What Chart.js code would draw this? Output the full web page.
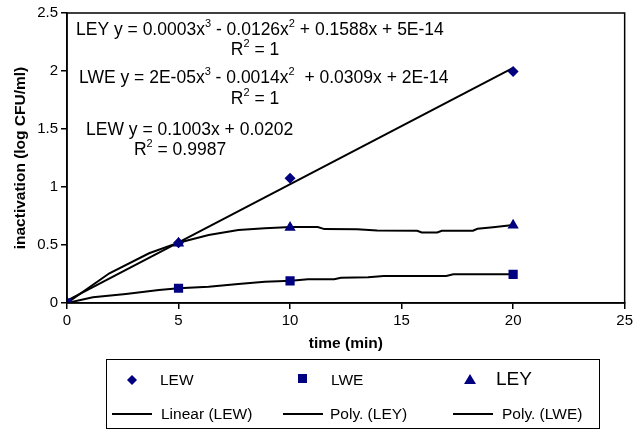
<!DOCTYPE html>
<html>
<head>
<meta charset="utf-8">
<script src="https://cdn.jsdelivr.net/npm/chart.js@4/dist/chart.umd.min.js"></script>
<style>
html,body{margin:0;padding:0;background:#fff;}
canvas{display:block;}
</style>
</head>
<body>
<canvas id="c" width="636" height="430"></canvas>
<script>
// ---- data ----
const timeMin = [0, 5, 10, 20];
const lewValues = [0, 0.52, 1.075, 1.995];
const lweValues = [0, 0.127, 0.19, 0.247];
const leyValues = [0, 0.515, 0.65, 0.67];

// trend lines
const linLewX = [0, 20];
const linLewY = [0.02, 2.026];
const polyLeyX = [0, 1.9, 3.68, 5.0, 6.35, 7.68, 8.87, 10.05, 11.24, 11.54, 13.0, 13.9, 15.7, 15.9, 16.6, 16.8, 18.2, 18.4, 19.1, 20];
const polyLeyY = [0, 0.256, 0.429, 0.52, 0.586, 0.629, 0.644, 0.655, 0.655, 0.637, 0.635, 0.625, 0.623, 0.608, 0.608, 0.623, 0.623, 0.64, 0.653, 0.672];
const polyLweX = [0, 1.16, 2.64, 4.12, 5.0, 6.35, 7.68, 8.87, 10.05, 10.8, 11.98, 12.28, 13.5, 14.2, 17.0, 17.32, 20];
const polyLweY = [0, 0.049, 0.078, 0.112, 0.127, 0.141, 0.164, 0.184, 0.192, 0.204, 0.204, 0.218, 0.222, 0.233, 0.233, 0.247, 0.247];

const xTicks = [0, 5, 10, 15, 20, 25];
const yTicks = [0, 0.5, 1, 1.5, 2, 2.5];
const yTickLabels = ['0', '0.5', '1', '1.5', '2', '2.5'];

const xTitle = 'time (min)';
const yTitle = 'inactivation (log CFU/ml)';

const eqLines = [
  {parts: [['LEY y = 0.0003x',0],['3',1],[' - 0.0126x',0],['2',1],[' + 0.1588x + 5E-14',0]], x: 76, y: 30, align: 'left'},
  {parts: [['R',0],['2',1],[' = 1',0]], x: 255, y: 50, align: 'center'},
  {parts: [['LWE y = 2E-05x',0],['3',1],[' - 0.0014x',0],['2',1],['  + 0.0309x + 2E-14',0]], x: 79, y: 78, align: 'left'},
  {parts: [['R',0],['2',1],[' = 1',0]], x: 255, y: 99, align: 'center'},
  {parts: [['LEW y = 0.1003x + 0.0202',0]], x: 86, y: 130, align: 'left'},
  {parts: [['R',0],['2',1],[' = 0.9987',0]], x: 180, y: 150, align: 'center'}
];

const legendRow1 = ['LEW', 'LWE', 'LEY'];
const legendRow2 = ['Linear (LEW)', 'Poly. (LEY)', 'Poly. (LWE)'];

const FONT = '"Liberation Sans", Arial, sans-serif';
const NAVY = '#000080';

function pts(xs, ys){ return xs.map((x,i)=>({x:x, y:ys[i]})); }

const overlay = {
  id: 'overlay',
  afterDraw(chart){
    const ctx = chart.ctx;
    const a = chart.chartArea;
    ctx.save();
    // plot frame
    ctx.strokeStyle = '#000';
    ctx.lineWidth = 1.5;
    ctx.strokeRect(a.left, a.top, a.right - a.left, a.bottom - a.top);

    // equations
    ctx.fillStyle = '#000';
    ctx.textBaseline = 'middle';
    const mainF = '17.5px ' + FONT, supF = '11px ' + FONT;
    eqLines.forEach(l => {
      let w = 0;
      l.parts.forEach(p => { ctx.font = p[1] ? supF : mainF; w += ctx.measureText(p[0]).width; });
      let x = l.align === 'center' ? l.x - w/2 : l.x;
      ctx.textAlign = 'left';
      l.parts.forEach(p => {
        ctx.font = p[1] ? supF : mainF;
        ctx.fillText(p[0], x, p[1] ? l.y - 6 : l.y);
        x += ctx.measureText(p[0]).width;
      });
    });

    // legend
    const L = {left: 106, top: 359, right: 599, bottom: 428};
    ctx.lineWidth = 1;
    ctx.strokeStyle = '#000';
    ctx.strokeRect(L.left + 0.5, L.top + 0.5, L.right - L.left, L.bottom - L.top);
    const r1 = 380, r2 = 414;
    ctx.fillStyle = NAVY;
    // diamond
    ctx.beginPath();
    ctx.moveTo(132, r1 - 5); ctx.lineTo(137, r1); ctx.lineTo(132, r1 + 5); ctx.lineTo(127, r1); ctx.closePath(); ctx.fill();
    // square
    ctx.fillRect(298, r1 - 6, 9, 9);
    // triangle
    ctx.beginPath();
    ctx.moveTo(470, r1 - 6); ctx.lineTo(476, r1 + 4); ctx.lineTo(464, r1 + 4); ctx.closePath(); ctx.fill();
    ctx.fillStyle = '#000';
    ctx.textAlign = 'left';
    ctx.font = '15.5px ' + FONT;
    ctx.fillText(legendRow1[0], 160, r1 + 1);
    ctx.fillText(legendRow1[1], 331, r1 + 1);
    ctx.font = '19px ' + FONT;
    ctx.fillText(legendRow1[2], 496, r1);
    ctx.font = '15.5px ' + FONT;
    ctx.lineWidth = 2;
    [[112,152,legendRow2[0],161],[283,323,legendRow2[1],330],[453,493,legendRow2[2],502]].forEach(s => {
      ctx.beginPath(); ctx.moveTo(s[0], r2); ctx.lineTo(s[1], r2); ctx.stroke();
      ctx.fillText(s[2], s[3], r2 + 1);
    });
    ctx.restore();
  }
};

const lineStyle = {type: 'line', showLine: true, borderColor: '#000', borderWidth: 2, pointRadius: 0, fill: false, tension: 0, order: 2};

new Chart(document.getElementById('c'), {
  type: 'scatter',
  data: {
    datasets: [
      Object.assign({label: 'Linear (LEW)', data: pts(linLewX, linLewY)}, lineStyle),
      Object.assign({label: 'Poly. (LEY)', data: pts(polyLeyX, polyLeyY)}, lineStyle),
      Object.assign({label: 'Poly. (LWE)', data: pts(polyLweX, polyLweY)}, lineStyle),
      {label: 'LEW', data: pts(timeMin, lewValues), pointStyle: 'rectRot', pointRadius: 5.5, backgroundColor: NAVY, borderColor: NAVY, borderWidth: 0, order: 1},
      {label: 'LWE', data: pts(timeMin, lweValues), pointStyle: 'rect', pointRadius: 6.5, backgroundColor: NAVY, borderColor: NAVY, borderWidth: 0, order: 1},
      {label: 'LEY', data: pts(timeMin, leyValues), pointStyle: 'triangle', pointRadius: 6.5, backgroundColor: NAVY, borderColor: NAVY, borderWidth: 0, order: 0}
    ]
  },
  options: {
    responsive: false,
    animation: false,
    devicePixelRatio: 1,
    layout: {padding: {left: 8, top: 13, right: 7, bottom: 73}},
    plugins: {legend: {display: false}, tooltip: {enabled: false}},
    scales: {
      x: {
        type: 'linear', min: 0, max: 25,
        afterBuildTicks: s => { s.ticks = xTicks.map(v => ({value: v})); },
        afterFit: s => { s.height = 54; },
        ticks: {color: '#000', font: {family: FONT, size: 15}, padding: 3},
        grid: {drawOnChartArea: false, color: '#000', tickLength: 6, lineWidth: 1.5},
        border: {color: '#000', width: 1.5},
        title: {display: true, text: xTitle, color: '#000', font: {family: FONT, size: 15.5, weight: 'bold'}, padding: {top: 0, bottom: 4}}
      },
      y: {
        type: 'linear', min: 0, max: 2.5,
        afterBuildTicks: s => { s.ticks = yTicks.map(v => ({value: v})); },
        afterFit: s => { s.width = 59; },
        ticks: {color: '#000', font: {family: FONT, size: 15}, padding: 3,
          callback: (v) => { const i = yTicks.indexOf(v); return i >= 0 ? yTickLabels[i] : ''; }},
        grid: {drawOnChartArea: false, color: '#000', tickLength: 6, lineWidth: 1.5},
        border: {color: '#000', width: 1.5},
        title: {display: true, text: yTitle, color: '#000', font: {family: FONT, size: 15.5, weight: 'bold'}, padding: {top: 3, bottom: 0}}
      }
    }
  },
  plugins: [overlay]
});
</script>
</body>
</html>
